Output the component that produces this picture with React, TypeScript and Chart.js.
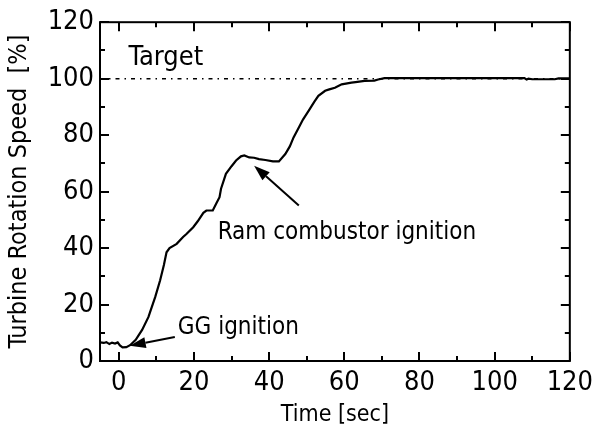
import React, { useEffect, useRef } from "react";
import { Chart, registerables } from "chart.js";

Chart.register(...registerables);

const timeSec = [
  -5, -4, -3.3, -2.5, -1.8, -1, -0.3, 0.3, 1, 2, 3, 4.5, 6.2, 7.9, 8.5, 9.7, 11, 12, 12.7, 13.5,
  15.4, 17.1, 18, 19.8, 21, 22.5, 23.3, 25, 26, 26.8, 27.2, 28.5, 30, 31.2, 32.5, 33.4, 34.7, 36,
  37.3, 39, 41, 42.6, 44.3, 45.5, 46.5, 47.9, 49, 50.5, 52, 53.1, 54.9, 56, 57.5, 59.3, 61.9, 63,
  65.4, 68, 69, 70.7, 80, 90, 100, 107.9, 108.5, 109, 110, 116, 117, 120,
];
const speedPct = [
  6.6, 6.4, 6.7, 6.0, 6.5, 6.2, 6.6, 5.5, 4.8, 4.9, 5.6, 7.5, 11.0, 15.6, 18, 22.7, 28.6, 34, 38.5, 40,
  41.5, 43.9, 45, 47.4, 49.5, 52.5, 53.3, 53.3, 56, 58, 61, 66.3, 69, 71, 72.5, 72.8, 72.1, 72,
  71.5, 71.2, 70.7, 70.7, 73.3, 76, 79.2, 82.7, 85.5, 88.6, 91.8, 93.9, 95.7, 96.2, 96.8, 98, 98.6, 98.8,
  99.2, 99.3, 99.7, 100.2, 100.2, 100.2, 100.2, 100.2, 99.7, 100.0, 99.8, 99.8, 100.1, 100.1,
];
const targetTime = [-5, 120];
const targetValue = [100, 100];

const xTickValues = [0, 20, 40, 60, 80, 100, 120];
const yTickValues = [0, 20, 40, 60, 80, 100, 120];
const xMinorValues = [10, 30, 50, 70, 90, 110];
const yMinorValues = [10, 30, 50, 70, 90, 110];

// annotation texts and arrows in data coordinates
const labelTexts = ["Target", "GG ignition", "Ram combustor ignition"];
const labelX = [2.6, 15.7, 26.3];
const labelY = [107.5, 11.6, 45.5];
const arrowFromX = [14.9, 47.9];
const arrowFromY = [8.5, 55.1];
const arrowToX = [2.9, 36.0];
const arrowToY = [5.4, 69.2];

const FONT = "'DejaVu Sans Condensed', 'DejaVu Sans', sans-serif";

const framePlugin = {
  id: "framePlugin",
  afterDraw(chart: any) {
    const { ctx, chartArea, scales } = chart;
    const xs = scales.x;
    const ys = scales.y;
    const { left, right, top, bottom } = chartArea;
    ctx.save();
    ctx.strokeStyle = "#000";
    ctx.lineWidth = 2;
    ctx.strokeRect(left, top, right - left, bottom - top);
    const major = 9;
    const minor = 5;
    ctx.lineWidth = 2;
    ctx.beginPath();
    xTickValues.forEach((v) => {
      const px = Math.round(xs.getPixelForValue(v));
      ctx.moveTo(px, bottom);
      ctx.lineTo(px, bottom - major);
      ctx.moveTo(px, top);
      ctx.lineTo(px, top + major);
    });
    xMinorValues.forEach((v) => {
      const px = Math.round(xs.getPixelForValue(v));
      ctx.moveTo(px, bottom);
      ctx.lineTo(px, bottom - minor);
      ctx.moveTo(px, top);
      ctx.lineTo(px, top + minor);
    });
    yTickValues.forEach((v) => {
      const py = Math.round(ys.getPixelForValue(v));
      ctx.moveTo(left, py);
      ctx.lineTo(left + major, py);
      ctx.moveTo(right, py);
      ctx.lineTo(right - major, py);
    });
    yMinorValues.forEach((v) => {
      const py = Math.round(ys.getPixelForValue(v));
      ctx.moveTo(left, py);
      ctx.lineTo(left + minor, py);
      ctx.moveTo(right, py);
      ctx.lineTo(right - minor, py);
    });
    ctx.stroke();

    // texts
    ctx.fillStyle = "#000";
    ctx.textBaseline = "middle";
    ctx.textAlign = "left";
    labelTexts.forEach((t, i) => {
      ctx.font = (i === 0 ? "27px " : "24px ") + FONT;
      ctx.fillText(t, xs.getPixelForValue(labelX[i]), ys.getPixelForValue(labelY[i]));
    });

    // arrows
    arrowFromX.forEach((_, i) => {
      const x1 = xs.getPixelForValue(arrowFromX[i]);
      const y1 = ys.getPixelForValue(arrowFromY[i]);
      const x2 = xs.getPixelForValue(arrowToX[i]);
      const y2 = ys.getPixelForValue(arrowToY[i]);
      const ang = Math.atan2(y2 - y1, x2 - x1);
      const headLen = 16;
      const headW = 5.5;
      const bx = x2 - headLen * Math.cos(ang);
      const by = y2 - headLen * Math.sin(ang);
      ctx.lineWidth = 2;
      ctx.beginPath();
      ctx.moveTo(x1, y1);
      ctx.lineTo(bx, by);
      ctx.stroke();
      ctx.beginPath();
      ctx.moveTo(x2, y2);
      ctx.lineTo(bx + headW * Math.sin(ang), by - headW * Math.cos(ang));
      ctx.lineTo(bx - headW * Math.sin(ang), by + headW * Math.cos(ang));
      ctx.closePath();
      ctx.fill();
    });
    ctx.restore();
  },
};

export default function App() {
  const canvasRef = useRef<HTMLCanvasElement>(null);

  useEffect(() => {
    if (!canvasRef.current) return;
    const chart = new Chart(canvasRef.current, {
      type: "line",
      data: {
        datasets: [
          {
            label: "Target",
            data: targetTime.map((x, i) => ({ x, y: targetValue[i] })),
            borderColor: "#000",
            borderWidth: 1.5,
            borderDash: [4, 5, 1.5, 5],
            pointRadius: 0,
            tension: 0,
          },
          {
            label: "Turbine Rotation Speed",
            data: timeSec.map((x, i) => ({ x, y: speedPct[i] })),
            borderColor: "#000",
            borderWidth: 2.2,
            pointRadius: 0,
            tension: 0,
          },
        ],
      },
      options: {
        animation: false,
        responsive: false,
        layout: { padding: { top: 21, right: 25, left: 0, bottom: 0 } },
        plugins: { legend: { display: false }, tooltip: { enabled: false } },
        scales: {
          x: {
            type: "linear",
            min: -5,
            max: 120,
            afterBuildTicks: (s: any) => {
              s.ticks = xTickValues.map((v) => ({ value: v }));
            },
            afterFit: (s: any) => {
              s.height = 71;
            },
            grid: { display: false, drawTicks: false },
            border: { display: false },
            ticks: {
              color: "#000",
              padding: 6,
              maxRotation: 0,
              font: { family: FONT, size: 27 },
            },
            title: {
              display: true,
              text: "Time [sec]",
              color: "#000",
              font: { family: FONT, size: 23 },
              padding: { top: 0, bottom: 3 },
            },
          },
          y: {
            type: "linear",
            min: 0,
            max: 120,
            afterBuildTicks: (s: any) => {
              s.ticks = yTickValues.map((v) => ({ value: v }));
            },
            afterFit: (s: any) => {
              s.width = 100;
            },
            grid: { display: false, drawTicks: false },
            border: { display: false },
            ticks: {
              color: "#000",
              padding: 6,
              font: { family: FONT, size: 27 },
            },
            title: {
              display: true,
              text: "Turbine Rotation Speed  [%]",
              color: "#000",
              font: { family: FONT, size: 25 },
              padding: { top: 4, bottom: 0 },
            },
          },
        },
      },
      plugins: [framePlugin],
    });
    return () => chart.destroy();
  }, []);

  return (
    <div style={{ position: "absolute", left: 0, top: 0, width: 599, height: 432, background: "#fff" }}>
      <canvas ref={canvasRef} width={599} height={432} />
    </div>
  );
}
